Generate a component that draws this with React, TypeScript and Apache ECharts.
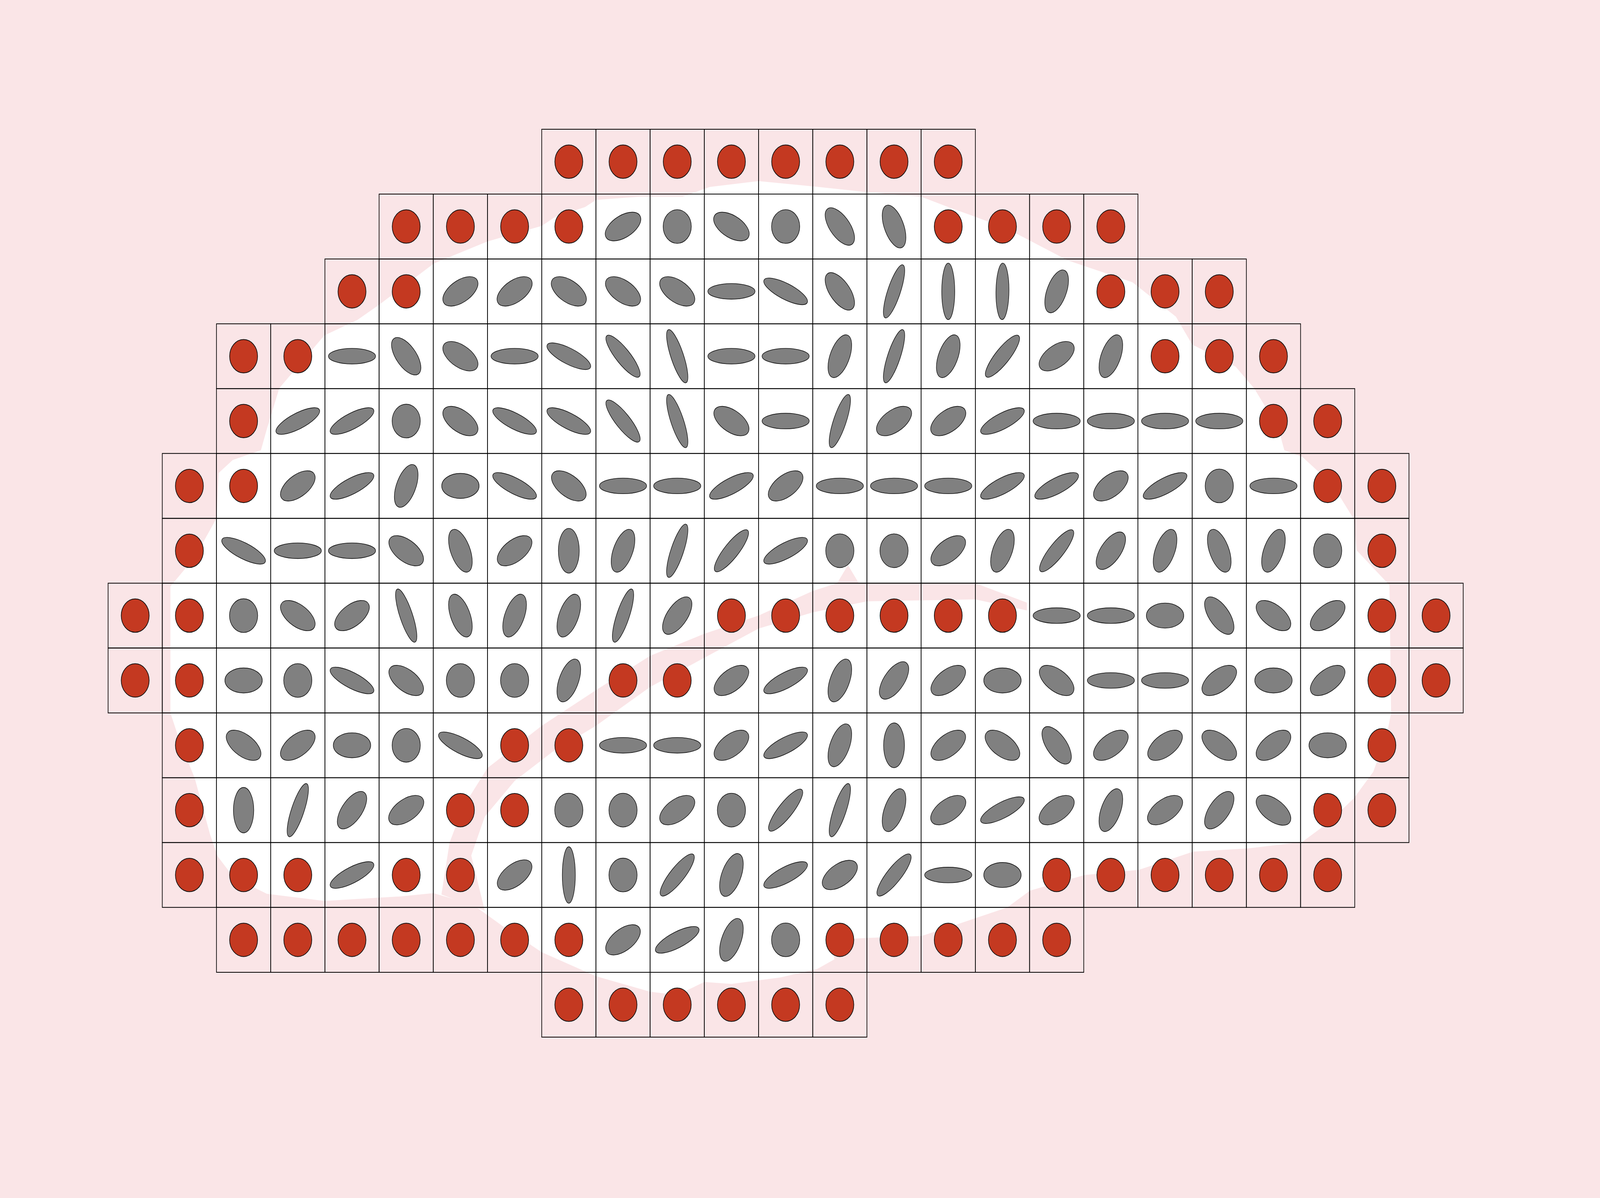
import React, { useEffect, useRef, useState } from "react";
import * as echarts from "echarts";

// Design size of the picture
const DESIGN_W = 4900;
const DESIGN_H = 3068;

// Grid layout: which columns exist in each row (first, last)
const ROW_SPANS: [number, number][] = [
  [8, 15], [5, 18], [4, 20], [2, 21], [2, 22], [1, 23], [1, 23],
  [0, 24], [0, 24], [1, 23], [1, 23], [1, 22], [2, 17], [8, 13],
];

// Valid cells (gray ellipses): [column, angle (deg, counter-clockwise), major axis, minor axis] in cell units
const ROW_0: number[][] = [];
const ROW_1: number[][] = [
  [9, 26, 0.71, 0.35], [10, 0, 0.52, 0.52], [11, -26, 0.71, 0.35], [12, 0, 0.52, 0.52],
  [13, -48, 0.71, 0.35], [14, -65, 0.71, 0.35],
];
const ROW_2: number[][] = [
  [6, 28, 0.71, 0.35], [7, 28, 0.71, 0.35], [8, -28, 0.71, 0.35], [9, -28, 0.71, 0.35],
  [10, -28, 0.71, 0.35], [11, 0, 0.87, 0.24], [12, -23, 0.87, 0.25], [13, -48, 0.71, 0.35],
  [14, 68, 0.88, 0.23], [15, 90, 0.87, 0.24], [16, 89, 0.87, 0.24], [17, 65, 0.71, 0.35],
];
const ROW_3: number[][] = [
  [4, 0, 0.87, 0.24], [5, -48, 0.71, 0.35], [6, -28, 0.71, 0.35], [7, 0, 0.87, 0.24],
  [8, -23, 0.87, 0.25], [9, -46, 0.87, 0.25], [10, -68, 0.88, 0.23], [11, 0, 0.87, 0.24],
  [12, 0, 0.87, 0.24], [13, 65, 0.71, 0.35], [14, 68, 0.88, 0.23], [15, 65, 0.71, 0.35],
  [16, 46, 0.87, 0.25], [17, 28, 0.71, 0.35], [18, 65, 0.71, 0.35],
];
const ROW_4: number[][] = [
  [3, 23, 0.87, 0.25], [4, 23, 0.87, 0.25], [5, 0, 0.52, 0.52], [6, -28, 0.71, 0.35],
  [7, -23, 0.87, 0.25], [8, -23, 0.87, 0.25], [9, -46, 0.87, 0.25], [10, -68, 0.88, 0.23],
  [11, -28, 0.71, 0.35], [12, 0, 0.87, 0.24], [13, 68, 0.88, 0.23], [14, 28, 0.71, 0.35],
  [15, 28, 0.71, 0.35], [16, 23, 0.87, 0.25], [17, 0, 0.87, 0.24], [18, 0, 0.87, 0.24],
  [19, 0, 0.87, 0.24], [20, 0, 0.87, 0.24],
];
const ROW_5: number[][] = [
  [3, 30, 0.71, 0.35], [4, 23, 0.87, 0.25], [5, 65, 0.71, 0.35], [6, 0, 0.69, 0.385],
  [7, -23, 0.87, 0.25], [8, -30, 0.71, 0.35], [9, 0, 0.87, 0.24], [10, 0, 0.87, 0.24],
  [11, 23, 0.87, 0.25], [12, 30, 0.71, 0.35], [13, 0, 0.87, 0.24], [14, 0, 0.87, 0.24],
  [15, 0, 0.87, 0.24], [16, 23, 0.87, 0.25], [17, 23, 0.87, 0.25], [18, 30, 0.71, 0.35],
  [19, 23, 0.87, 0.25], [20, 0, 0.52, 0.52], [21, 0, 0.87, 0.24],
];
const ROW_6: number[][] = [
  [2, -23, 0.87, 0.25], [3, 0, 0.87, 0.24], [4, 0, 0.87, 0.24], [5, -30, 0.71, 0.35],
  [6, -65, 0.71, 0.35], [7, 30, 0.71, 0.35], [8, 90, 0.69, 0.385], [9, 65, 0.71, 0.35],
  [10, 68, 0.88, 0.23], [11, 46, 0.87, 0.25], [12, 23, 0.87, 0.25], [13, 0, 0.52, 0.52],
  [14, 0, 0.52, 0.52], [15, 30, 0.71, 0.35], [16, 65, 0.71, 0.35], [17, 46, 0.87, 0.25],
  [18, 48, 0.71, 0.35], [19, 65, 0.71, 0.35], [20, -65, 0.71, 0.35], [21, 65, 0.71, 0.35],
  [22, 0, 0.52, 0.52],
];
const ROW_7: number[][] = [
  [2, 0, 0.52, 0.52], [3, -30, 0.71, 0.35], [4, 30, 0.71, 0.35], [5, -68, 0.88, 0.23],
  [6, -65, 0.71, 0.35], [7, 65, 0.71, 0.35], [8, 65, 0.71, 0.35], [9, 68, 0.88, 0.23],
  [10, 48, 0.71, 0.35], [17, 0, 0.87, 0.24], [18, 0, 0.87, 0.24], [19, 0, 0.69, 0.385],
  [20, -48, 0.71, 0.35], [21, -30, 0.71, 0.35], [22, 30, 0.71, 0.35],
];
const ROW_8: number[][] = [
  [2, 0, 0.69, 0.385], [3, 0, 0.52, 0.52], [4, -23, 0.87, 0.25], [5, -30, 0.71, 0.35],
  [6, 0, 0.52, 0.52], [7, 0, 0.52, 0.52], [8, 65, 0.71, 0.35], [11, 30, 0.71, 0.35],
  [12, 23, 0.87, 0.25], [13, 65, 0.71, 0.35], [14, 48, 0.71, 0.35], [15, 30, 0.71, 0.35],
  [16, 0, 0.69, 0.385], [17, -30, 0.71, 0.35], [18, 0, 0.87, 0.24], [19, 0, 0.87, 0.24],
  [20, 30, 0.71, 0.35], [21, 0, 0.69, 0.385], [22, 30, 0.71, 0.35],
];
const ROW_9: number[][] = [
  [2, -30, 0.71, 0.35], [3, 30, 0.71, 0.35], [4, 0, 0.69, 0.385], [5, 0, 0.52, 0.52],
  [6, -23, 0.87, 0.25], [9, 0, 0.87, 0.24], [10, 0, 0.87, 0.24], [11, 30, 0.71, 0.35],
  [12, 23, 0.87, 0.25], [13, 65, 0.71, 0.35], [14, 90, 0.69, 0.385], [15, 30, 0.71, 0.35],
  [16, -30, 0.71, 0.35], [17, -48, 0.71, 0.35], [18, 30, 0.71, 0.35], [19, 30, 0.71, 0.35],
  [20, -30, 0.71, 0.35], [21, 30, 0.71, 0.35], [22, 0, 0.69, 0.385],
];
const ROW_10: number[][] = [
  [2, 90, 0.7, 0.375], [3, 68, 0.88, 0.23], [4, 48, 0.71, 0.35], [5, 28, 0.71, 0.35],
  [8, 0, 0.52, 0.52], [9, 0, 0.52, 0.52], [10, 28, 0.71, 0.35], [11, 0, 0.52, 0.52],
  [12, 46, 0.87, 0.25], [13, 68, 0.88, 0.23], [14, 65, 0.71, 0.35], [15, 28, 0.71, 0.35],
  [16, 23, 0.87, 0.25], [17, 28, 0.71, 0.35], [18, 65, 0.71, 0.35], [19, 28, 0.71, 0.35],
  [20, 48, 0.71, 0.35], [21, -30, 0.71, 0.35],
];
const ROW_11: number[][] = [
  [4, 23, 0.87, 0.25], [7, 30, 0.71, 0.35], [8, 90, 0.87, 0.24], [9, 0, 0.52, 0.52],
  [10, 46, 0.87, 0.25], [11, 65, 0.71, 0.35], [12, 23, 0.87, 0.25], [13, 28, 0.71, 0.35],
  [14, 46, 0.87, 0.25], [15, 0, 0.87, 0.24], [16, 0, 0.69, 0.385],
];
const ROW_12: number[][] = [
  [9, 30, 0.71, 0.35], [10, 23, 0.87, 0.25], [11, 65, 0.71, 0.35], [12, 0, 0.52, 0.52],
];
const ROW_13: number[][] = [];

const ELLIPSE_ROWS = [ROW_0, ROW_1, ROW_2, ROW_3, ROW_4, ROW_5, ROW_6, ROW_7, ROW_8, ROW_9, ROW_10, ROW_11, ROW_12, ROW_13];

// Excluded cells are drawn as red dots with this diameter (cell units)
const EXCLUDED_SIZE = 0.515;

// Background tissue outline and the gap band running through it (cell coordinates)
const TISSUE_OUTLINE: [number, number][] = [
  [8.0, 1.49], [8.25, 1.35], [8.8, 1.2], [9.0, 1.09], [9.8, 1.04], [10.6, 1.04], [11.1, 0.89],
  [12.0, 0.8], [13.0, 0.88], [14.0, 0.97], [15.0, 1.04], [15.5, 1.2], [16.0, 1.35], [16.6, 1.54],
  [17.7, 2.02], [18.9, 2.36], [19.7, 2.89], [20.0, 3.32], [20.8, 3.66], [21.14, 3.99], [21.59, 4.61],
  [21.7, 4.95], [22.03, 5.05], [22.59, 5.48], [22.98, 6.01], [23.03, 6.49], [23.64, 7.03],
  [23.67, 9.0], [23.59, 9.34], [23.34, 9.91], [22.98, 10.32], [22.53, 10.68], [22.03, 10.99],
  [21.03, 11.09], [20.02, 11.14], [19.02, 11.42], [18.02, 11.5], [17.01, 11.74], [16.59, 12.0],
  [15.67, 12.26], [15.01, 12.44], [14.0, 12.47], [13.35, 12.5], [13.4, 12.8], [13.08, 12.95],
  [12.4, 13.08], [11.5, 13.18], [11.0, 13.15], [10.5, 13.35], [10.0, 13.3], [9.0, 13.06],
  [8.0, 12.69], [7.3, 12.3], [6.8, 12.0], [6.5, 11.9], [6.0, 11.78], [5.39, 11.83], [3.99, 11.9],
  [2.93, 11.79], [2.32, 11.54], [2.02, 11.21], [1.88, 10.87], [1.6, 10.01], [1.32, 9.43],
  [1.15, 9.0], [1.15, 7.05], [1.6, 6.6], [2.0, 6.0], [2.04, 5.3], [2.3, 5.1], [2.82, 4.95],
  [2.93, 4.62], [3.16, 3.99], [3.99, 3.18], [4.6, 2.94], [5.01, 2.7], [6.01, 2.07], [7.0, 1.73],
];
const GAP_BAND: [number, number][] = [
  [16.95, 7.3], [16.0, 7.0], [14.1, 7.0], [13.85, 7.0], [13.65, 6.72], [13.45, 7.0], [13.0, 7.12],
  [12.0, 7.5], [11.0, 7.78], [10.0, 8.12], [9.0, 8.65], [8.0, 9.2], [7.0, 9.85], [6.55, 10.45],
  [6.3, 11.0], [6.15, 11.8], [6.95, 12.05], [6.7, 11.2], [6.95, 10.6], [7.5, 10.05], [8.2, 9.6],
  [9.0, 9.2], [10.0, 8.6], [11.0, 8.15], [12.0, 7.7], [13.0, 7.45], [14.0, 7.28], [16.0, 7.25],
  [16.95, 7.42],
];

const PINK = "#fae5e7";
const RED = "#c43921";
const GRAY = "#808080";

function buildCells(): number[][] {
  const out: number[][] = [];
  ROW_SPANS.forEach(([c0, c1], row) => {
    const list = ELLIPSE_ROWS[row];
    for (let col = c0; col <= c1; col++) {
      const e = list.find((d) => d[0] === col);
      if (e) out.push([col, row, 1, e[1], e[2], e[3]]);
      else out.push([col, row, 0, 0, EXCLUDED_SIZE, EXCLUDED_SIZE]);
    }
  });
  return out;
}

function viewportScale() {
  const w = window.innerWidth || DESIGN_W;
  const h = window.innerHeight || DESIGN_H;
  return { sx: w / DESIGN_W, sy: h / DESIGN_H };
}

export default function App() {
  const ref = useRef<HTMLDivElement>(null);
  const [scale, setScale] = useState(viewportScale());

  useEffect(() => {
    const onResize = () => setScale(viewportScale());
    window.addEventListener("resize", onResize);
    return () => window.removeEventListener("resize", onResize);
  }, []);

  useEffect(() => {
    if (!ref.current) return;
    const chart = echarts.init(ref.current, undefined, { renderer: "svg" });
    const cells = buildCells();
    const option: any = {
      animation: false,
      backgroundColor: PINK,
      grid: { left: 331, top: 331, width: 4150, height: 2325 },
      xAxis: { type: "value", min: 0, max: 25, show: false },
      yAxis: { type: "value", min: 0, max: 14, inverse: true, show: false },
      series: [
        {
          type: "custom",
          silent: true,
          z: 1,
          clip: false,
          data: [[0, 0]],
          encode: { x: 0, y: 1 },
          renderItem: (_params: any, api: any) => ({
            type: "group",
            children: [
              {
                type: "polygon",
                shape: { points: TISSUE_OUTLINE.map((p) => api.coord(p)) },
                style: { fill: "#ffffff" },
              },
              {
                type: "polygon",
                shape: { points: GAP_BAND.map((p) => api.coord(p)) },
                style: { fill: PINK },
              },
            ],
          }),
        },
        {
          type: "custom",
          silent: true,
          z: 2,
          clip: false,
          data: cells,
          encode: { x: 0, y: 1 },
          renderItem: (_params: any, api: any) => {
            const col = api.value(0);
            const row = api.value(1);
            const kind = api.value(2);
            const angle = api.value(3);
            const major = api.value(4);
            const minor = api.value(5);
            const p0 = api.coord([col, row]);
            const p1 = api.coord([col + 1, row + 1]);
            const w = p1[0] - p0[0];
            const h = p1[1] - p0[1];
            const cx = p0[0] + w / 2;
            const cy = p0[1] + h / 2;
            return {
              type: "group",
              children: [
                {
                  type: "rect",
                  shape: { x: p0[0], y: p0[1], width: w, height: h },
                  style: { fill: "none", stroke: "#000", lineWidth: 2 },
                },
                {
                  type: "ellipse",
                  x: cx,
                  y: cy,
                  rotation: (angle * Math.PI) / 180,
                  shape: { cx: 0, cy: 0, rx: (major * w) / 2, ry: (minor * h) / 2 },
                  style: {
                    fill: kind === 1 ? GRAY : RED,
                    stroke: "#111",
                    lineWidth: kind === 1 ? 1.6 : 2,
                  },
                },
              ],
            };
          },
        },
      ],
    };
    chart.setOption(option);
    return () => chart.dispose();
  }, []);

  return (
    <div
      style={{
        position: "fixed",
        left: 0,
        top: 0,
        width: DESIGN_W,
        height: DESIGN_H,
        transformOrigin: "0 0",
        transform: `scale(${scale.sx}, ${scale.sy})`,
        background: PINK,
      }}
    >
      <div ref={ref} style={{ width: DESIGN_W, height: DESIGN_H }} />
    </div>
  );
}
